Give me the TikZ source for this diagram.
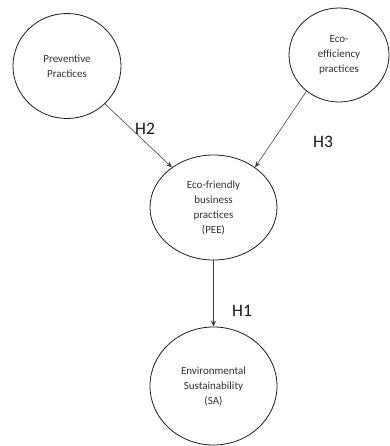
\documentclass[tikz,border=0pt]{standalone}
\usepackage{fontspec}
\setmainfont{Carlito}
\usetikzlibrary{shapes.geometric,arrows.meta}
\begin{document}
\begin{tikzpicture}[x=1pt,y=-1pt,
  construct/.style={draw=black!88, line width=0.8pt, ellipse, inner sep=0pt,
    align=center, font=\fontsize{11}{15}\selectfont, text=black!80},
  link/.style={draw=black!75, line width=0.55pt, -{Stealth[length=6pt,width=5pt]}},
  hyp/.style={font=\fontsize{17.5}{17.5}\selectfont, text=black!90, inner sep=0pt}]
\useasboundingbox (0,0) rectangle (389,446);
\fill[white] (0,0) rectangle (389,446);

% latent constructs
\node[construct, minimum width=108pt, minimum height=105pt] (prev) at (67,66)
  {Preventive\\Practices};
\node[construct, minimum width=100pt, minimum height=94pt] (eco) at (339,55)
  {Eco-\\efficiency\\practices};
\node[construct, minimum width=127pt, minimum height=105pt] (pee) at (213.5,207.5)
  {Eco-friendly\\business\\practices\\(PEE)};
\node[construct, minimum width=127pt, minimum height=118pt] (sa) at (213.5,386)
  {Environmental\\Sustainability\\(SA)};

% hypothesised paths
\draw[link] (prev.-45) -- (pee.136);
\draw[link] (eco.228) -- (pee.44);
\draw[link] (pee.south) -- (sa.north);

% hypothesis labels
\node[hyp] (h2) at (145,129) {H2};
\node[hyp] (h3) at (323,142) {H3};
\node[hyp] (h1) at (242,311) {H1};
\end{tikzpicture}
\end{document}
